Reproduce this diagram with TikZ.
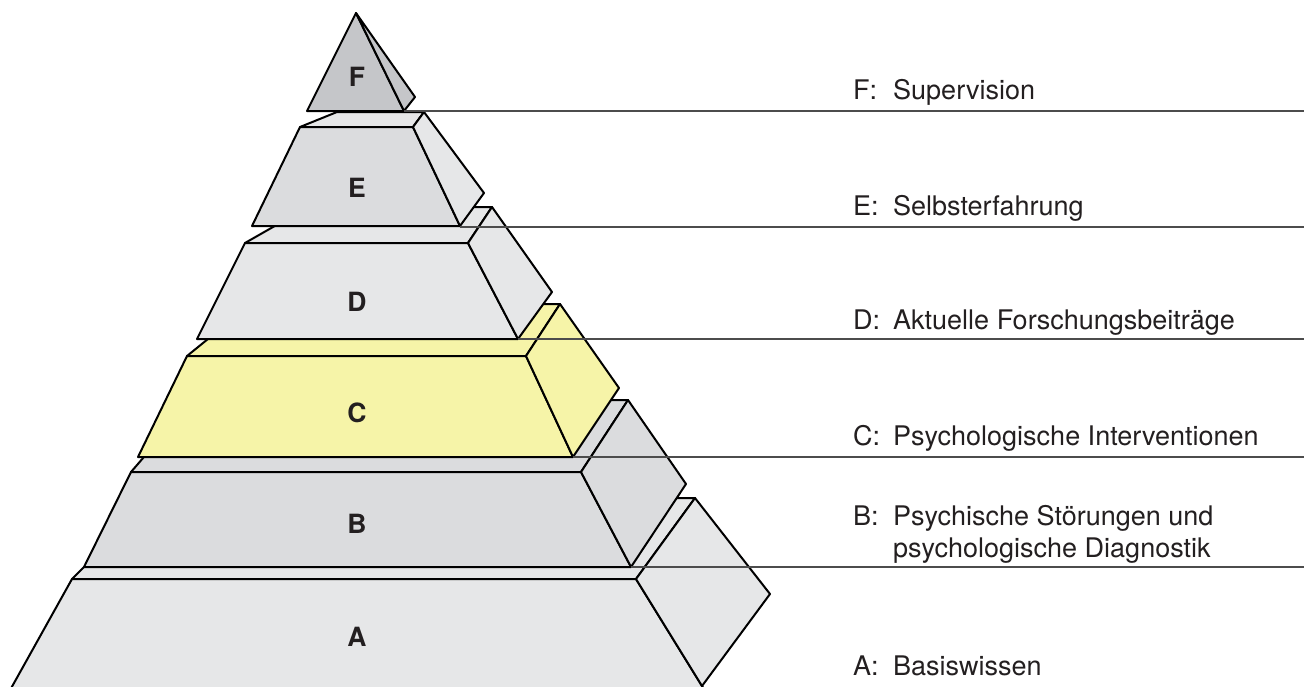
\documentclass[tikz,border=0pt]{standalone}
\usepackage{fontspec}
\setmainfont{TeX Gyre Heros}
\usepackage{tikz}
\usetikzlibrary{calc}

\definecolor{darkstone}{HTML}{C5C6C9}
\definecolor{midstone}{HTML}{DBDCDE}
\definecolor{lightstone}{HTML}{E6E7E8}
\definecolor{lemon}{HTML}{F6F4A8}
\definecolor{ink}{HTML}{231F20}

\begin{document}
\begin{tikzpicture}[
    x=1pt, y=-1pt,
    face/.style={draw=black, line width=2pt, line join=round},
    divider/.style={draw=black!70, line width=1.2pt},
    letter/.style={font=\fontsize{26.5}{30}\selectfont\bfseries, text=ink, inner sep=0pt},
    entry/.style={font=\fontsize{27}{32}\selectfont, text=ink, inner sep=0pt, anchor=base west, align=left}
  ]
  % Marco
  \useasboundingbox (0,0) rectangle (1304,686);
  \clip (0,0) rectangle (1304,686);
  \coordinate (fin) at (1304,0);
  \def\keyx{853} % columna de las letras
  \def\textx{893} % columna de los textos

  % Capa A
  \draw[face, fill=lightstone] (72,579) -- (153,498) -- (695,498) -- (636,579) -- cycle;
  \draw[face, fill=lightstone] (72,579) -- (636,579) -- (702,686) -- (706,692) -- (9,692) -- cycle;
  \draw[face, fill=lightstone] (636,579) -- (695,498) -- (770,594) -- (702,686) -- cycle;

  % Capa B
  \draw[face, fill=midstone] (131,472) -- (193,400) -- (628,400) -- (581,472) -- cycle;
  \draw[face, fill=midstone] (131,472) -- (581,472) -- (631,567) -- (84,567) -- cycle;
  \draw[face, fill=midstone] (581,472) -- (628,400) -- (686,484) -- (631,567) -- cycle;
  \coordinate (B-br) at (631,567);

  % Capa C
  \draw[face, fill=lemon] (187,356) -- (251,304) -- (560,304) -- (526,356) -- cycle;
  \draw[face, fill=lemon] (187,356) -- (526,356) -- (573,457) -- (138,457) -- cycle;
  \draw[face, fill=lemon] (526,356) -- (560,304) -- (619,388) -- (573,457) -- cycle;
  \coordinate (C-br) at (573,457);

  % Capa D
  \draw[face, fill=lightstone] (245,243) -- (308,207) -- (492,207) -- (468,243) -- cycle;
  \draw[face, fill=lightstone] (245,243) -- (468,243) -- (518,339) -- (197,339) -- cycle;
  \draw[face, fill=lightstone] (468,243) -- (492,207) -- (552,292) -- (518,339) -- cycle;
  \coordinate (D-br) at (518,339);

  % Capa E
  \draw[face, fill=lightstone] (300,127) -- (337,112) -- (424,112) -- (413,127) -- cycle;
  \draw[face, fill=midstone] (300,127) -- (413,127) -- (460,226) -- (252,226) -- cycle;
  \draw[face, fill=lightstone] (413,127) -- (424,112) -- (484,193) -- (460,226) -- cycle;
  \coordinate (E-br) at (460,227);

  % Punta F
  \draw[face, fill=darkstone] (356,13) -- (307,111) -- (404,111) -- cycle;
  \draw[face, fill=darkstone] (356,13) -- (415,97) -- (404,111) -- cycle;
  \coordinate (F-br) at (404,111);

  % Lineas de separacion
  \draw[divider] (F-br) -- (F-br -| fin);
  \draw[divider] (E-br) -- (E-br -| fin);
  \draw[divider] (D-br) -- (D-br -| fin);
  \draw[divider] (C-br) -- (C-br -| fin);
  \draw[divider] (B-br) -- (B-br -| fin);

  % Letras de las capas
  \node[letter] (lF) at (357,77) {F};
  \node[letter] (lE) at (357,188) {E};
  \node[letter] (lD) at (357,302) {D};
  \node[letter] (lC) at (357,413) {C};
  \node[letter] (lB) at (357,524) {B};
  \node[letter] (lA) at (357,637) {A};

  % Leyenda
  \node[entry] (kF) at (\keyx,99) {F:};
  \node[entry] (tF) at (\textx,99) {Supervision};
  \node[entry] (kE) at (\keyx,215) {E:};
  \node[entry] (tE) at (\textx,215) {Selbsterfahrung};
  \node[entry] (kD) at (\keyx,329) {D:};
  \node[entry] (tD) at (\textx,329) {Aktuelle Forschungsbeiträge};
  \node[entry] (kC) at (\keyx,445) {C:};
  \node[entry] (tC) at (\textx,445) {Psychologische Interventionen};
  \node[entry] (kB) at (\keyx,525) {B:};
  % la base del nodo de dos lineas es la ultima linea
  \node[entry] (tB) at (\textx,557) {Psychische Störungen und\\psychologische Diagnostik};
  \node[entry] (kA) at (\keyx,675) {A:};
  \node[entry] (tA) at (\textx,675) {Basiswissen};
\end{tikzpicture}
\end{document}
